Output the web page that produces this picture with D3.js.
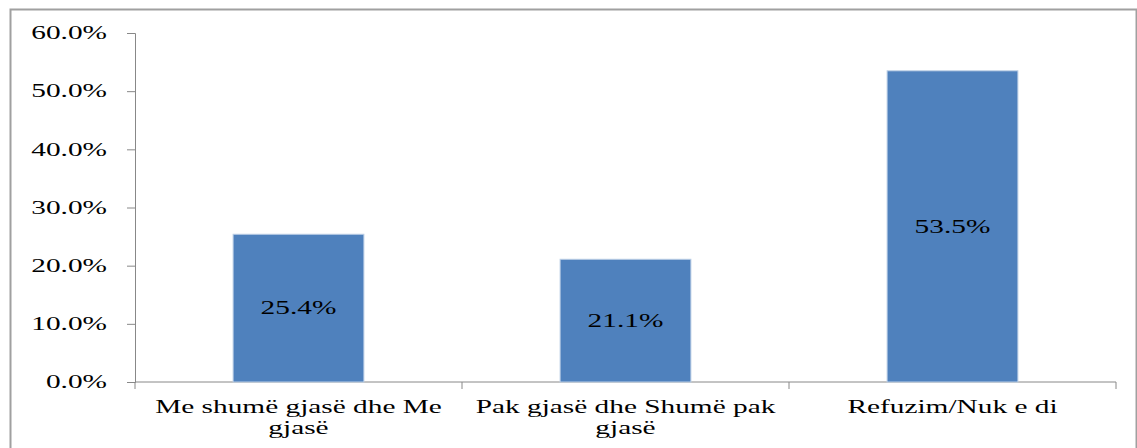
<!DOCTYPE html>
<html>
<head>
<meta charset="utf-8">
<script src="https://cdn.jsdelivr.net/npm/d3@7"></script>
<style>
  body { margin: 0; background: #fff; }
  text { font-family: "Liberation Serif", serif; }
</style>
</head>
<body>
<div id="chart"></div>
<script>
// data
var categories = ["Me shumë gjasë dhe Me gjasë", "Pak gjasë dhe Shumë pak gjasë", "Refuzim/Nuk e di"];
var tickLines = [["Me shumë gjasë dhe Me", "gjasë"], ["Pak gjasë dhe Shumë pak", "gjasë"], ["Refuzim/Nuk e di"]];
var values = [0.254, 0.211, 0.535];
var yTicks = [0, 0.1, 0.2, 0.3, 0.4, 0.5, 0.6];

var W = 1137, H = 448;
var margin = { top: 33, right: 21, bottom: 66, left: 135 },
    width = W - margin.left - margin.right,
    height = H - margin.top - margin.bottom;

var fontSize = "18px",
    stretch = 1.63;   // the original font is much wider than Times

var svg = d3.select("#chart")
    .append("svg")
    .attr("width", W)
    .attr("height", H);

// outer chart border
svg.append("rect")
    .attr("x", 10.5)
    .attr("y", 9.5)
    .attr("width", 1126)
    .attr("height", 460)
    .attr("fill", "none")
    .attr("stroke", "#a0a0a0")
    .attr("stroke-width", 2);

var g = svg.append("g")
    .attr("transform", "translate(" + margin.left + "," + margin.top + ")");

var x = d3.scaleBand()
    .domain(categories)
    .range([0, width])
    .paddingInner(0.6)
    .paddingOuter(0.3);

var y = d3.scaleLinear()
    .domain([0, 0.6])
    .range([height, 0]);

// y axis
var yAxis = g.append("g")
    .call(d3.axisLeft(y).tickValues(yTicks).tickFormat(d3.format(".1%")).tickSize(8).tickSizeOuter(8));
yAxis.selectAll("text")
    .attr("x", 0)
    .attr("transform", "translate(-28,0) scale(" + stretch + ",1)")
    .style("font-size", fontSize)
    .style("fill", "#000")
    .style("font-family", "Liberation Serif, serif");
yAxis.selectAll("path, line").attr("stroke", "#888");

// x axis: ticks at band boundaries
var xAxis = g.append("g")
    .attr("transform", "translate(0," + height + ")");
xAxis.append("line")
    .attr("x1", 0).attr("x2", width)
    .attr("stroke", "#888");
var bounds = d3.range(categories.length + 1).map(function (i) {
    return x.step() * i;
});
xAxis.selectAll(".xt")
    .data(bounds)
    .enter().append("line")
    .attr("x1", function (d) { return d; })
    .attr("x2", function (d) { return d; })
    .attr("y1", 0).attr("y2", 7)
    .attr("stroke", "#888");

// category labels
var lbl = xAxis.selectAll(".lbl")
    .data(categories)
    .enter().append("text")
    .attr("text-anchor", "middle")
    .attr("transform", function (d) {
        return "translate(" + (x(d) + x.bandwidth() / 2) + ",31) scale(" + stretch + ",1)";
    })
    .style("font-size", fontSize)
    .attr("fill", "#000");
lbl.each(function (d, i) {
    var t = d3.select(this);
    tickLines[i].forEach(function (line, k) {
        t.append("tspan")
            .attr("x", 0)
            .attr("dy", k === 0 ? 0 : 21)
            .text(line);
    });
});

// bars
g.selectAll("rect.bar")
    .data(values)
    .enter().append("rect")
    .attr("class", "bar")
    .attr("x", function (d, i) { return x(categories[i]); })
    .attr("y", function (d) { return y(d); })
    .attr("width", x.bandwidth())
    .attr("height", function (d) { return height - y(d); })
    .attr("fill", "#4F81BD")
    .attr("stroke", "#BCCFE6")
    .attr("stroke-width", 1);

// value labels in the middle of the bars
g.selectAll("text.val")
    .data(values)
    .enter().append("text")
    .attr("class", "val")
    .attr("text-anchor", "middle")
    .attr("transform", function (d, i) {
        return "translate(" + (x(categories[i]) + x.bandwidth() / 2) + "," + (y(d) + height) / 2 + ") scale(" + stretch + ",1)";
    })
    .attr("dy", "0.35em")
    .style("font-size", fontSize)
    .attr("fill", "#000")
    .text(function (d) { return d3.format(".1%")(d); });
</script>
</body>
</html>
